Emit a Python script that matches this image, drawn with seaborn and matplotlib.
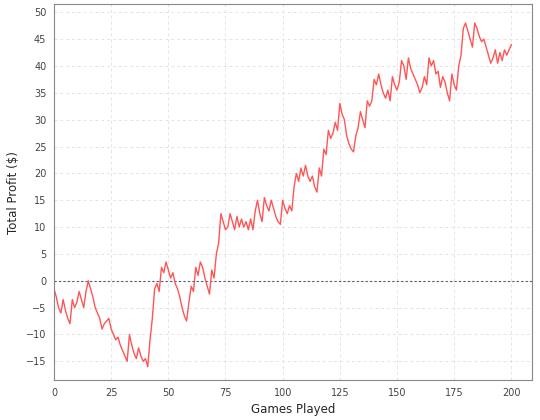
import numpy as np
import pandas as pd
import matplotlib
matplotlib.use("Agg")
import matplotlib.pyplot as plt
import seaborn as sns

# Profit cumule, partie 0..200
profit = [-1.5, -3, -5, -6, -3.5, -5.5, -7, -8, -3.5, -5, -4, -2, -3.5, -5, -2, 0, -1.5, -3, -5, -6,
          -7, -9, -8, -7.5, -7, -9, -10, -11, -10.5, -12, -13, -14, -15, -10, -12, -13.5, -14.5, -12.5, -14, -15,
          -14.5, -16, -11, -7, -1.5, -0.5, -2, 2.5, 1.5, 3.5, 2, 0.5, 1.5, -0.5, -1.5, -3, -5, -6.5, -7.5, -4,
          -1, -2, 2.5, 1, 3.5, 2.5, 0.5, -1, -2.5, 2, 0.5, 5, 7, 12.5, 11, 9.5, 10, 12.5, 11, 9.5,
          12, 10, 11.5, 10, 11, 9.5, 11.5, 9.5, 13, 15, 12.5, 11, 15.5, 14, 13, 15, 13.5, 12, 11, 10.5,
          15, 13.5, 12.5, 14, 13, 17.5, 20, 18.5, 21, 19.5, 21.5, 19.5, 18.5, 19.5, 17.5, 16.5, 21, 19.5, 24.5, 23.5,
          28, 26.5, 27.5, 29.5, 28, 33, 31, 30, 27, 25.5, 24.5, 24, 27, 28.5, 31.5, 30, 28.5, 33.5, 32.5, 33.5,
          37.5, 36.5, 38.5, 36.5, 35, 34, 35.5, 33.5, 38, 36.5, 35.5, 37, 41, 40, 37.5, 41.5, 39.5, 38.5, 37.5, 36.5,
          35, 36, 38, 36.5, 41.5, 40, 41, 38.5, 39, 36, 38, 37, 35, 33.5, 38.5, 36.5, 35.5, 40, 42, 47,
          48, 46.5, 45, 43.5, 48, 47, 45.5, 44.5, 45, 43.5, 42, 40.5, 41.5, 43, 40.5, 42.5, 41, 43, 42, 43, 44]
games = list(range(len(profit)))
df = pd.DataFrame({"game": games, "profit": profit})

sns.set_style("white")
plt.rcParams["font.family"] = ["DejaVu Sans"]

fig, ax = plt.subplots(figsize=(5.4, 4.2), dpi=100)
ax.grid(True, color="#e4e4e4", linestyle=(0, (3, 3)), linewidth=0.7)
ax.set_axisbelow(True)
ax.axhline(0, color="#555577", linestyle=(0, (2, 2)), linewidth=0.8)
sns.lineplot(data=df, x="game", y="profit", color="#ff5555", linewidth=1.0, ax=ax)

ax.set_xlim(0, 209)
ax.set_ylim(-18.5, 51.5)
ax.set_xticks(range(0, 201, 25))
ax.set_yticks(range(-15, 51, 5))
ax.tick_params(labelsize=7, colors="#444444", length=2)
ax.set_xlabel("Games Played", fontsize=8.5)
ax.set_ylabel("Total Profit ($)", fontsize=8.5)
for s in ax.spines.values():
    s.set_color("#888888")
    s.set_linewidth(0.8)

plt.subplots_adjust(left=0.1, right=0.985, top=0.99, bottom=0.095)
plt.savefig("out.png", dpi=100)
